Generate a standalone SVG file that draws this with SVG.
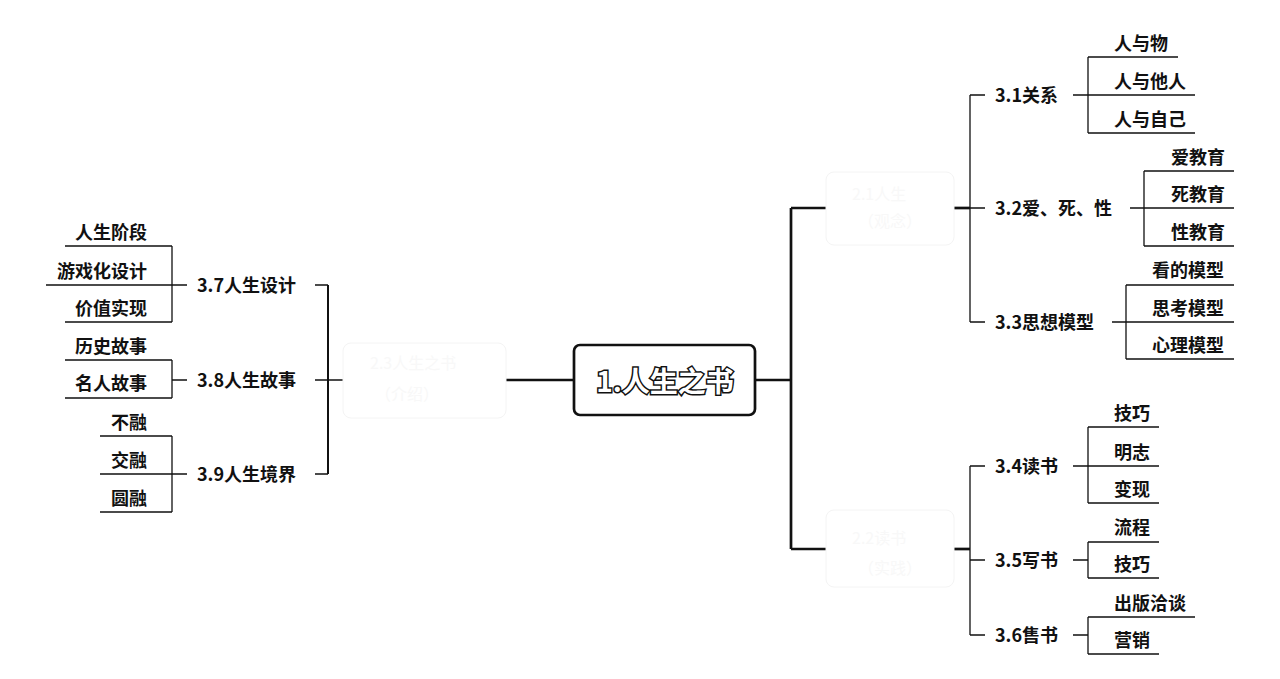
<svg xmlns="http://www.w3.org/2000/svg" width="1280" height="679" viewBox="0 0 1280 679">
<style>
  text { font-family: "Noto Sans CJK SC", "Noto Sans", sans-serif; font-weight: 700; fill: #111; dominant-baseline: central; }
  .lbl { font-size: 18px; }
  .item { font-size: 18px; }
  .r { text-anchor: end; }
  .thin { stroke: #111; stroke-width: 1.3; fill: none; }
  .mid { stroke: #111; stroke-width: 2; fill: none; }
  .thick { stroke: #111; stroke-width: 2.7; fill: none; }
  .ghost { fill: none; stroke: #f4f4f4; stroke-width: 1; }
  .gtext { font-size: 16px; fill: #f8f8f8; font-weight: 400; }
  .title { font-size: 28px; fill: #fff; stroke: #111; stroke-width: 3; paint-order: stroke; text-anchor: middle; }
</style>
<rect width="1280" height="679" fill="#fff"/>

<g id="connectors">
  <path class="thick" d="M755 380 H791 M791 208 V549 M791 208 H826 M791 549 H826"/>
  <path class="thick" d="M506 380 H574"/>
  <path class="thick" d="M954 208 H970"/>
  <path class="thin" d="M970 95 V322 M970 95 H985 M970 208 H985 M970 322 H985"/>
  <path class="thick" d="M954 549 H970"/>
  <path class="thin" d="M970 466 V635 M970 466 H985 M970 560 H985 M970 635 H985"/>
  <path class="mid" d="M328 285 V474"/>
  <path class="thin" d="M315 285 H328 M315 380 H343 M315 474 H328"/>

  <path class="thin" d="M1088 57 V133 M1088 57 H1178 M1073 95 H1195 M1088 133 H1195"/>
  <path class="thin" d="M1144 171 V246 M1144 171 H1234 M1130 208 H1234 M1144 246 H1234"/>
  <path class="thin" d="M1126 285 V359 M1126 285 H1234 M1112 322 H1234 M1126 359 H1234"/>
  <path class="thin" d="M1088 427 V503 M1088 427 H1159 M1073 466 H1159 M1088 503 H1159"/>
  <path class="thin" d="M1088 542 V578 M1088 542 H1159 M1073 560 H1088 M1088 578 H1159"/>
  <path class="thin" d="M1088 617 V654 M1088 617 H1195 M1073 635 H1088 M1088 654 H1159"/>

  <path class="thin" d="M172 246 V322 M65 246 H172 M46 285 H187 M65 322 H172"/>
  <path class="thin" d="M172 360 V398 M65 360 H172 M172 380 H187 M65 398 H172"/>
  <path class="thin" d="M172 436 V512 M100 436 H172 M100 474 H187 M100 512 H172"/>
</g>

<g id="center">
  <rect x="574" y="345" width="181" height="70" rx="6" fill="#fff" stroke="#111" stroke-width="2.7"/>
  <text class="title" x="665" y="380">1.人生之书</text>
</g>

<g id="node-2-1">
  <rect class="ghost" x="826" y="172" width="128" height="73" rx="8"/>
  <text class="gtext" x="852" y="193">2.1人生</text>
  <text class="gtext" x="858" y="220">（观念）</text>
</g>
<g id="node-2-2">
  <rect class="ghost" x="826" y="510" width="128" height="77" rx="8"/>
  <text class="gtext" x="852" y="537">2.2读书</text>
  <text class="gtext" x="858" y="567">（实践）</text>
</g>
<g id="node-2-3">
  <rect class="ghost" x="343" y="343" width="163" height="75" rx="8"/>
  <text class="gtext" x="370" y="362">2.3人生之书</text>
  <text class="gtext" x="375" y="393">（介绍）</text>
</g>

<g id="n31"><text class="lbl" x="995" y="94">3.1关系</text></g>
<g id="n31a"><text class="item" x="1114" y="42">人与物</text></g>
<g id="n31b"><text class="item" x="1114" y="80">人与他人</text></g>
<g id="n31c"><text class="item" x="1114" y="118">人与自己</text></g>

<g id="n32"><text class="lbl" x="995" y="207">3.2爱、死、性</text></g>
<g id="n32a"><text class="item" x="1171" y="156">爱教育</text></g>
<g id="n32b"><text class="item" x="1171" y="193">死教育</text></g>
<g id="n32c"><text class="item" x="1171" y="231">性教育</text></g>

<g id="n33"><text class="lbl" x="995" y="321">3.3思想模型</text></g>
<g id="n33a"><text class="item" x="1152" y="269">看的模型</text></g>
<g id="n33b"><text class="item" x="1152" y="307">思考模型</text></g>
<g id="n33c"><text class="item" x="1152" y="344">心理模型</text></g>

<g id="n34"><text class="lbl" x="995" y="465">3.4读书</text></g>
<g id="n34a"><text class="item" x="1114" y="412">技巧</text></g>
<g id="n34b"><text class="item" x="1114" y="451">明志</text></g>
<g id="n34c"><text class="item" x="1114" y="488">变现</text></g>

<g id="n35"><text class="lbl" x="995" y="559">3.5写书</text></g>
<g id="n35a"><text class="item" x="1114" y="526">流程</text></g>
<g id="n35b"><text class="item" x="1114" y="563">技巧</text></g>

<g id="n36"><text class="lbl" x="995" y="634">3.6售书</text></g>
<g id="n36a"><text class="item" x="1114" y="602">出版洽谈</text></g>
<g id="n36b"><text class="item" x="1114" y="639">营销</text></g>

<g id="n37"><text class="lbl" x="197" y="284">3.7人生设计</text></g>
<g id="n37a"><text class="item r" x="147" y="231">人生阶段</text></g>
<g id="n37b"><text class="item r" x="147" y="270">游戏化设计</text></g>
<g id="n37c"><text class="item r" x="147" y="307">价值实现</text></g>

<g id="n38"><text class="lbl" x="197" y="379">3.8人生故事</text></g>
<g id="n38a"><text class="item r" x="147" y="345">历史故事</text></g>
<g id="n38b"><text class="item r" x="147" y="382">名人故事</text></g>

<g id="n39"><text class="lbl" x="197" y="473">3.9人生境界</text></g>
<g id="n39a"><text class="item r" x="147" y="421">不融</text></g>
<g id="n39b"><text class="item r" x="147" y="459">交融</text></g>
<g id="n39c"><text class="item r" x="147" y="497">圆融</text></g>
</svg>
